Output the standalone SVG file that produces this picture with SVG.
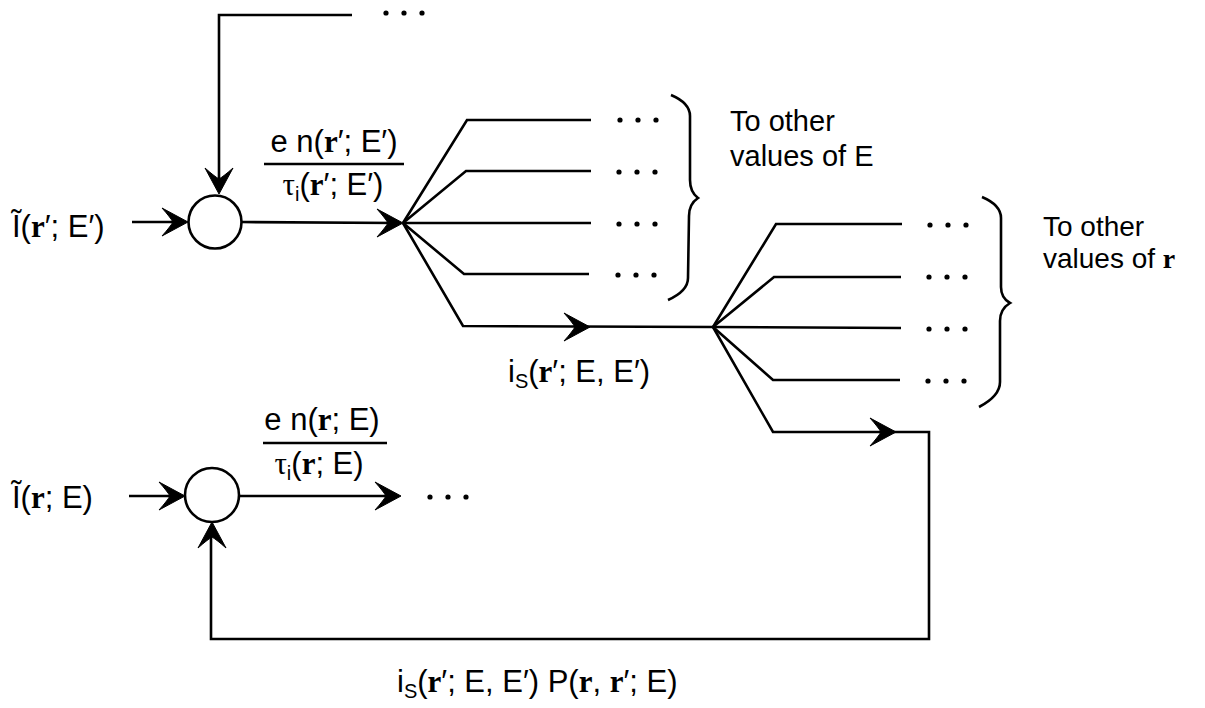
<svg xmlns="http://www.w3.org/2000/svg" xmlns:xlink="http://www.w3.org/1999/xlink" width="1205" height="708" viewBox="0 0 1205 708">
<style>
.ln{fill:none;stroke:#000;stroke-width:2.6;stroke-linejoin:miter}
.nd{fill:#fff;stroke:#000;stroke-width:2.6}
.t{font-family:"Liberation Sans",Arial,sans-serif;font-size:31px;fill:#000}
.side{font-size:29px}
.side2{font-size:28px}
.b{font-family:"Liberation Serif","Times New Roman",serif;font-weight:bold}
.g{font-family:"Liberation Serif","Times New Roman",serif}
.sub{font-size:20px}
.dot{fill:#000}
.bar{stroke:#000;stroke-width:2.4}
</style>
<defs>
<path id="ah" d="M0,0 L-26,-14 Q-18,-5 -15,0 Q-18,5 -26,14 Z" fill="#000" stroke="#000" stroke-width="1" stroke-linejoin="round"/>
<circle id="d" r="2.6" class="dot"/>
</defs>
<rect width="1205" height="708" fill="#fff"/>

<g id="connectors">
<!-- top feedback -->
<polyline class="ln" points="352,15 219,15 219,188"/>
<use xlink:href="#ah" transform="translate(219,194) rotate(90)"/>
<!-- input 1 -->
<line class="ln" x1="132" y1="222" x2="178" y2="222"/>
<use xlink:href="#ah" transform="translate(188,222)"/>
<!-- circle1 to fan1 -->
<line class="ln" x1="242" y1="222" x2="398" y2="223"/>
<use xlink:href="#ah" transform="translate(403,223)"/>
<!-- fan 1 -->
<polyline class="ln" points="403,223 467,120 591,120"/>
<polyline class="ln" points="403,223 466,171 591,171"/>
<line class="ln" x1="403" y1="223" x2="591" y2="223"/>
<polyline class="ln" points="403,223 464,274 589,274"/>
<polyline class="ln" points="403,223 463,326 713,327"/>
<use xlink:href="#ah" transform="translate(590,327)"/>
<!-- fan 2 -->
<polyline class="ln" points="713,327 776,224 902,224"/>
<polyline class="ln" points="713,327 774,277 901,277"/>
<line class="ln" x1="713" y1="327" x2="901" y2="328"/>
<polyline class="ln" points="713,327 773,380 900,380"/>
<polyline class="ln" points="713,327 773,432 929,432 929,639 211,639 211,528"/>
<use xlink:href="#ah" transform="translate(896,432)"/>
<use xlink:href="#ah" transform="translate(212,522) rotate(-90)"/>
<!-- input 2 -->
<line class="ln" x1="129" y1="496" x2="176" y2="496"/>
<use xlink:href="#ah" transform="translate(185,496)"/>
<!-- circle2 output -->
<line class="ln" x1="240" y1="496" x2="394" y2="496"/>
<use xlink:href="#ah" transform="translate(401,496)"/>
<!-- braces -->
<path class="ln" d="M671,95 Q690,103 690,116 L690,180 Q690,192 698,198 Q689,204 689,216 L688,278 Q688,291 668,300"/>
<path class="ln" d="M982,197 Q1001,205 1001,218 L1001,287 Q1001,298 1010,303 Q1000,309 1000,321 L1000,382 Q1000,396 979,407"/>
</g>

<g id="dots">
<use xlink:href="#d" x="386" y="13"/><use xlink:href="#d" x="404" y="13"/><use xlink:href="#d" x="422" y="13"/>
<use xlink:href="#d" x="620" y="120"/><use xlink:href="#d" x="638" y="120"/><use xlink:href="#d" x="656" y="120"/>
<use xlink:href="#d" x="619" y="172"/><use xlink:href="#d" x="637" y="172"/><use xlink:href="#d" x="655" y="172"/>
<use xlink:href="#d" x="619" y="224"/><use xlink:href="#d" x="637" y="224"/><use xlink:href="#d" x="655" y="224"/>
<use xlink:href="#d" x="618" y="275"/><use xlink:href="#d" x="636" y="275"/><use xlink:href="#d" x="654" y="275"/>
<use xlink:href="#d" x="930" y="225"/><use xlink:href="#d" x="948" y="225"/><use xlink:href="#d" x="966" y="225"/>
<use xlink:href="#d" x="929" y="277"/><use xlink:href="#d" x="947" y="277"/><use xlink:href="#d" x="965" y="277"/>
<use xlink:href="#d" x="929" y="329"/><use xlink:href="#d" x="947" y="329"/><use xlink:href="#d" x="965" y="329"/>
<use xlink:href="#d" x="928" y="381"/><use xlink:href="#d" x="946" y="381"/><use xlink:href="#d" x="964" y="381"/>
<use xlink:href="#d" x="430" y="497"/><use xlink:href="#d" x="448" y="497"/><use xlink:href="#d" x="466" y="497"/>
</g>

<g id="sum1">
<circle class="nd" cx="215" cy="222" r="26.5"/>
</g>
<g id="sum2">
<circle class="nd" cx="212" cy="495" r="27"/>
</g>

<g id="label-input1">
<text class="t" x="12" y="237">Ĩ(<tspan class="b">r</tspan>′; E′)</text>
</g>
<g id="label-rate1">
<text class="t" x="334" y="152" text-anchor="middle">e n(<tspan class="b">r</tspan>′; E′)</text>
<line class="bar" x1="264" y1="164" x2="404" y2="164"/>
<text class="t" x="333" y="195" text-anchor="middle"><tspan class="g">τ</tspan><tspan class="sub" dy="6">i</tspan><tspan dy="-6">(</tspan><tspan class="b">r</tspan>′; E′)</text>
</g>
<g id="label-E">
<text class="t side" x="730" y="131">To other</text>
<text class="t side" x="730" y="166">values of E</text>
</g>
<g id="label-r">
<text class="t side2" x="1043" y="236">To other</text>
<text class="t side2" x="1043" y="268">values of <tspan class="b">r</tspan></text>
</g>
<g id="label-is">
<text class="t" x="508" y="382">i<tspan class="sub" dy="6">S</tspan><tspan dy="-6">(</tspan><tspan class="b">r</tspan>′; E, E′)</text>
</g>
<g id="label-input2">
<text class="t" x="12" y="508">Ĩ(<tspan class="b">r</tspan>; E)</text>
</g>
<g id="label-rate2">
<text class="t" x="322" y="430" text-anchor="middle">e n(<tspan class="b">r</tspan>; E)</text>
<line class="bar" x1="263" y1="443" x2="387" y2="443"/>
<text class="t" x="319" y="474" text-anchor="middle"><tspan class="g">τ</tspan><tspan class="sub" dy="6">i</tspan><tspan dy="-6">(</tspan><tspan class="b">r</tspan>; E)</text>
</g>
<g id="label-feedback">
<text class="t" x="397" y="692">i<tspan class="sub" dy="6">S</tspan><tspan dy="-6">(</tspan><tspan class="b">r</tspan>′; E, E′) P(<tspan class="b">r</tspan>, <tspan class="b">r</tspan>′; E)</text>
</g>
</svg>
